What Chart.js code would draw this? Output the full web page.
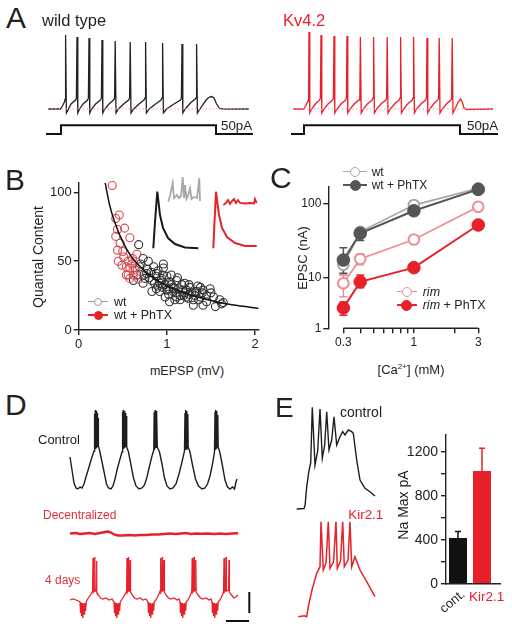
<!DOCTYPE html>
<html>
<head>
<meta charset="utf-8">
<script src="https://cdn.jsdelivr.net/npm/chart.js@4.4.1/dist/chart.umd.min.js"></script>
<style>
  body { margin: 0; background: #fff; }
  #fig { position: relative; width: 512px; height: 631px; overflow: hidden; font-family: "Liberation Sans", Arial, Helvetica, sans-serif; color: #222; }
  #fig canvas { position: absolute; }
  .t { position: absolute; line-height: 1; white-space: nowrap; }
  .mk { position: absolute; box-sizing: border-box; }
</style>
</head>
<body>
<div id="fig"></div>
<script>
// ---- data ----
// A: current-clamp traces (ms, mV) and injected step (ms, pA)
const restV = -65;
const wtTrace = [[0,-65],[62,-65],[72,-62],[82,-58],[86,-55],[88,9],[92,-69],[100,-66],[115,-60],[138,-56],[142,-54],[145,7],[149,-69],[158,-65],[175,-60],[198,-56],[202,-54],[205,6],[209,-69],[218,-65],[238,-60],[262,-56],[267,-54],[270,4],[274,-69],[284,-65],[305,-60],[328,-56],[333,-54],[336,3],[340,-69],[352,-65],[378,-60],[403,-56],[408,-54],[411,2],[415,-69],[428,-65],[455,-60],[480,-56],[485,-54],[488,2],[492,-69],[506,-65],[538,-60],[565,-56],[570,-54],[573,1],[577,-69],[593,-65],[630,-60],[662,-56],[667,-54],[670,0],[674,-69],[686,-65],[712,-59],[736,-55],[740,-54],[743,0],[747,-69],[760,-65],[780,-59],[795,-55],[808,-53],[818,-52.5],[830,-54],[843,-60],[858,-64.5],[880,-65.2],[1005,-65]];
const kvTrace = [[0,-65],[55,-65],[66,-61],[75,-57],[78,-55],[80,12],[84,-69],[93,-65],[112,-60],[133,-56],[137,-54],[140,9],[144,-69],[155,-65],[175,-60],[198,-56],[202,-54],[205,8],[209,-69],[220,-65],[240,-60],[263,-56],[267,-54],[270,8],[274,-69],[285,-65],[306,-60],[330,-56],[334,-54],[337,7],[341,-69],[352,-65],[372,-60],[396,-56],[400,-54],[403,7],[407,-69],[418,-65],[440,-60],[464,-56],[468,-54],[471,7],[475,-69],[486,-65],[507,-60],[531,-56],[535,-54],[538,7],[542,-69],[553,-65],[573,-60],[596,-56],[600,-54],[603,7],[607,-69],[618,-65],[640,-60],[663,-56],[667,-54],[670,6],[674,-69],[684,-65],[703,-60],[724,-56],[728,-54],[731,6],[735,-69],[746,-65],[767,-60],[789,-56],[793,-54],[796,6],[800,-69],[812,-64],[826,-58],[838,-55],[846,-58],[855,-64],[868,-65.5],[1000,-65]];
const wtStep = [[-10,0],[65,0],[65,50],[840,50],[840,0],[1025,0]];
const kvStep = [[-10,0],[55,0],[55,50],[835,50],[835,0],[1025,0]];

// B: quantal content vs mEPSP
const wtMepsp = [0.68,0.73,0.79,0.96,0.96,0.85,0.88,0.77,0.83,0.73,0.92,0.88,1.0,1.05,1.03,1.11,1.17,1.2,1.26,1.34,1.38,1.41,1.49,1.45,1.55,1.62,1.41,1.30,1.36,1.2,1.11,0.98,1.07,1.15,1.02,0.88,0.83,0.62,0.66,0.69,0.75,0.94,1.07,1.22,1.28,1.53,1.38,0.92,1.19,1.24,1.03,1.09,1.32,1.45,0.80,0.86,0.90,0.93,0.95,0.98,1.0,1.02,1.05,1.08,1.1,1.13,1.15,1.18,1.22,1.25,1.3,1.32,0.78,0.82,0.7,0.74,0.9,0.95,1.12,1.25,1.35,1.4,1.5,1.6,1.64];
const wtQC    = [62,52,50,48,45,46,41,41,36,34,34,39,39,40,35,36,33,34,31,28,31,29,30,25,17,19,18,18,22,27,24,24,28,22,30,30,28,36,40,46,37.5,37.5,31,29,27,24,24,28,25,23,20.5,22,25,20.5,38,34,32,36,31,33,29,26,33,30,27,30,25,29,24,26,22,28,44,42,48,40,43,40,38,33,32,27,27,22,20];
const phMepsp = [0.38,0.46,0.42,0.52,0.44,0.42,0.58,0.47,0.44,0.51,0.45,0.56,0.60,0.49,0.54,0.58,0.64,0.56,0.62,0.66,0.58,0.54,0.64,0.68,0.50,0.61];
const phQC    = [105,83.5,81,74,73,68,67,63,58,53,50,50,48,47,46,45,45,40,40,55,37.5,40,43.6,37,57,52];
const fitMepsp = [0.3,0.35,0.4,0.5,0.6,0.7,0.8,1.0,1.2,1.4,1.6,1.8,2.04];
const fitQC    = [107,91,80,64,53,46,40,32,27,23,20,17.8,15.7];
// B insets (ms, a.u.)
const evokedWt  = [[3.3,3.7],[5,30],[7.3,60.3],[10,37],[13,24],[18,14],[25,8],[35,4.5],[48.3,3.7]];
const minisWt   = [[18.3,50.3],[20,56],[22.7,69],[24,54],[27,57],[29,54],[31,56],[32.7,75],[34,54],[35,67],[36.5,53],[38,56],[40,64],[41.5,53],[44,55],[47,54],[49.3,74],[50,51]];
const evokedPh  = [[63.3,3.7],[64.5,30],[66,60.3],[69,37],[72,24],[77,15],[85,9],[95,6],[106.7,6]];
const minisPh   = [[73.3,47],[76,49],[78,52],[80,48],[82,51],[84,53],[86,49],[88,52],[90,49],[95,48.5],[100,49],[104,48.5],[105,53],[106.7,49]];

// C: EPSC vs [Ca2+]
const caLevels   = [0.3, 0.4, 1, 3];
const wtEpsc     = [15, 42, 97, 163];
const wtLo       = [11, 37, 89, 157];
const wtHi       = [19, 47, 105, 169];
const wtPhEpsc   = [17.4, 40, 81, 158];
const wtPhLo     = [11.5, 32, 74, 150];
const wtPhHi     = [25.5, 47, 88, 166];
const rimEpsc    = [8.4, 18, 33, 92];
const rimLo      = [5.5, 15, 31, 87];
const rimHi      = [10.9, 21, 35.5, 97];
const rimPhEpsc  = [3.9, 8.8, 13.7, 52];
const rimPhLo    = [3.1, 7.3, 12.5, 48.5];
const rimPhHi    = [4.7, 10.9, 15, 56];
const caTicks    = [0.3,0.4,0.5,0.6,0.7,0.8,0.9,1,2,3];

// D: STG neuron traces (ms, mV)
const ctrlTrace = [[0,-29],[20,-42],[40,-55],[60,-60],[80,-61],[100,-59],[120,-60],[140,-56],[160,-49],[190,-39],[220,-29],[240,-23],
 [244,14],[248,-22],[253,18],[257,-21],[262,17],[266,-20],[271,15],[275,-19],[280,10],[284,-18],
 [295,-22],[320,-34],[345,-46],[365,-56],[385,-60],[410,-61],[430,-58],[450,-51],[475,-40],[500,-31],[520,-24],
 [524,16],[528,-22],[533,18],[537,-21],[543,17],[547,-20],[553,15],[557,-19],[563,12],[567,-19],
 [585,-24],[610,-37],[635,-50],[660,-58],[690,-61],[720,-60],[745,-57],[770,-49],[795,-38],[820,-28],[838,-22],
 [842,16],[846,-22],[851,18],[855,-20],[860,17],[864,-20],[869,14],[873,-19],
 [895,-24],[920,-36],[945,-50],[970,-58],[1000,-61],[1030,-60],[1060,-56],[1090,-46],[1120,-34],[1145,-23],
 [1150,15],[1154,-22],[1159,18],[1163,-21],[1168,17],[1172,-20],[1178,14],[1182,-19],
 [1200,-24],[1225,-37],[1255,-51],[1285,-58],[1320,-61],[1350,-60],[1375,-56],[1400,-48],[1425,-36],[1445,-24],
 [1450,16],[1454,-22],[1459,18],[1463,-20],[1468,17],[1472,-19],[1478,13],[1482,-19],
 [1500,-25],[1525,-38],[1550,-52],[1575,-59],[1600,-61],[1625,-59],[1645,-61],[1660,-54],[1670,-51]];
const decentTrace = [[0,-49.5],[60,-49],[100,-50],[150,-49.5],[200,-49],[250,-50],[300,-49],[350,-48],[380,-47.5],[410,-48.5],[440,-50.5],[480,-51.5],[530,-51.5],[600,-51],[650,-51.5],[700,-51],[760,-51],[820,-50.5],[880,-50.5],[940,-50],[1000,-49.5],[1060,-50],[1110,-49.5],[1160,-49],[1210,-50],[1260,-49.5],[1320,-49.8],[1380,-49.5],[1440,-50],[1500,-49.5],[1560,-50],[1620,-49.5],[1680,-49.2]];
const days4Trace = [[0,-60],[30,-59],[60,-60],[85,-61],
 [100,-62],[104,-73],[108,-62],[116,-76],[120,-63],[128,-78],[132,-64],[142,-74],[146,-63],[156,-71],[162,-62],[170,-60],
 [190,-57],[210,-54],[226,-51],[230,-18],[234,-52],[244,-50],[248,-17],[252,-51],[261,-50],[265,-21],[269,-52],[285,-55],[305,-58],[330,-59],[360,-58],[390,-60],[420,-59],
 [440,-62],[444,-73],[448,-62],[456,-76],[460,-63],[468,-78],[472,-64],[482,-74],[486,-63],[496,-71],[502,-62],[515,-60],
 [535,-57],[552,-54],[566,-51],[570,-18],[574,-52],[582,-50],[586,-17],[590,-51],[597,-50],[601,-20],[605,-52],[622,-55],[645,-58],[670,-59],[700,-58],[730,-60],[760,-59],
 [780,-62],[784,-73],[788,-62],[796,-76],[800,-63],[808,-78],[812,-64],[822,-74],[826,-63],[836,-71],[842,-62],[860,-60],
 [875,-57],[890,-54],[901,-51],[905,-18],[909,-52],[918,-50],[922,-17],[926,-51],[936,-50],[940,-20],[944,-52],[960,-55],[985,-58],[1010,-59],[1040,-58],[1070,-60],[1090,-59],
 [1100,-62],[1104,-73],[1108,-62],[1116,-76],[1120,-63],[1128,-78],[1132,-64],[1142,-74],[1146,-63],[1156,-71],[1162,-62],[1180,-60],
 [1195,-57],[1208,-54],[1218,-51],[1222,-18],[1226,-52],[1236,-50],[1240,-17],[1244,-51],[1254,-50],[1258,-20],[1262,-52],[1280,-55],[1305,-58],[1330,-59],[1360,-58],[1390,-60],[1410,-59],
 [1420,-62],[1424,-73],[1428,-62],[1436,-76],[1440,-63],[1448,-78],[1452,-64],[1462,-74],[1466,-63],[1476,-71],[1482,-62],[1500,-60],
 [1515,-57],[1528,-54],[1536,-51],[1540,-18],[1544,-52],[1556,-50],[1560,-17],[1564,-51],[1586,-50],[1590,-20],[1594,-52],[1615,-55],[1640,-58],[1660,-57],[1680,-55]];
const scaleBarT = [[1560,-81],[1790,-81]];
const scaleBarV = [[1793,-52],[1793,-73]];

// E: traces (ms, mV) and Na max current
const eCtrlTrace = [[0,-70],[36.5,-69.5],[42,-66],[50,-47.7],[62,-31],[70,-24],[78,31.7],[91.5,-26],[105,-12],[116.5,30],[128,-19.3],[140,-6],[150,27.3],[161.5,-11],[175,-1],[186.5,22.3],[200,-6],[216.5,2.3],[230,7.3],[241.5,4],[258,9],[275,7.3],[283,5.7],[300,-21],[316.5,-41],[341.5,-49.3],[366.5,-52.7],[391.5,-57]];
const eKirTrace = [[0,-70],[30,-69],[42,-70],[50,-60],[68.5,-43.3],[92,-26.6],[108.5,-20],[113.5,25],[125,-23.3],[138.5,-16.3],[150,25],[158.5,-21.6],[176,-15.3],[188.5,25],[195,-21.6],[211,-14.3],[222,25],[230,-20],[248.5,-13.3],[258.5,25],[267,-20],[283.5,-10],[308.5,-23.3],[342,-35],[383.5,-50]];
const naGroups = ['cont.', 'Kir2.1'];
const naMax    = [415, 1024];
const naErr    = [60, 207];

// ---- helpers ----
const FONT = '"Liberation Sans", Arial, Helvetica, sans-serif';
const RED = '#e8202a';
const INK = '#222';
const fig = document.getElementById('fig');

function addCanvas(id, left, top, w, h) {
  const c = document.createElement('canvas');
  c.id = id; c.width = w; c.height = h;
  c.style.left = left + 'px'; c.style.top = top + 'px';
  c.style.width = w + 'px'; c.style.height = h + 'px';
  fig.appendChild(c);
  return c;
}
function txt(s, x, base, size, o = {}) {
  const d = document.createElement('div');
  d.className = 't'; d.innerHTML = s;
  d.style.fontSize = size + 'px';
  d.style.color = o.color || INK;
  if (o.italic) d.style.fontStyle = 'italic';
  d.style.left = x + 'px';
  d.style.top = (base - 0.8465 * size) + 'px';
  if (o.center) d.style.transform = 'translateX(-50%)';
  fig.appendChild(d);
}
function rtxt(s, cx, cy, size, angle, o = {}) {
  const d = document.createElement('div');
  d.className = 't'; d.innerHTML = s;
  d.style.fontSize = size + 'px';
  d.style.color = o.color || INK;
  d.style.left = cx + 'px'; d.style.top = cy + 'px';
  d.style.transform = 'translate(-50%,-50%) rotate(' + angle + 'deg)';
  fig.appendChild(d);
}
function legendMark(x1, x2, cy, color, filled, r) {
  const l = document.createElement('div');
  l.className = 'mk';
  Object.assign(l.style, { left: x1 + 'px', top: (cy - 0.8) + 'px', width: (x2 - x1) + 'px', height: '1.6px', background: color });
  fig.appendChild(l);
  const c = document.createElement('div');
  const cx = (x1 + x2) / 2;
  c.className = 'mk';
  Object.assign(c.style, { left: (cx - r) + 'px', top: (cy - r) + 'px', width: 2 * r + 'px', height: 2 * r + 'px',
    borderRadius: '50%', border: '1.6px solid ' + color, background: filled ? color : '#fff' });
  fig.appendChild(c);
}
const pts = arr => arr.map(p => ({ x: p[0], y: p[1] }));
const zip = (xs, ys) => xs.map((x, i) => ({ x: x, y: ys[i] }));
function line(arr, color, w, extra) {
  return Object.assign({ data: pts(arr), borderColor: color, borderWidth: w, pointRadius: 0, fill: false, tension: 0 }, extra || {});
}
const base = { responsive: false, animation: false, devicePixelRatio: 1, events: [],
  plugins: { legend: { display: false }, tooltip: { enabled: false } } };

function traceChart(canvas, datasets, xr, yr, extraScales) {
  const scales = { x: { type: 'linear', display: false, min: xr[0], max: xr[1] },
                   y: { type: 'linear', display: false, min: yr[0], max: yr[1] } };
  Object.assign(scales, extraScales || {});
  return new Chart(canvas, { type: 'line', data: { datasets }, options: Object.assign({}, base, {
    layout: { padding: 0 }, elements: { point: { radius: 0 }, line: { tension: 0 } }, scales }) });
}
function axis(extra) {
  return Object.assign({
    grid: { display: true, drawOnChartArea: false, drawTicks: true, tickLength: 5, color: INK, lineWidth: 1.4 },
    border: { display: true, color: INK, width: 1.4 }
  }, extra);
}
// error bars drawn through the scales
const errorBars = {
  id: 'errorBars',
  beforeDatasetsDraw(chart) {
    const ctx = chart.ctx, ys = chart.scales.y;
    chart.data.datasets.forEach((ds, i) => {
      if (!ds.errLo && !ds.errHi) return;
      const meta = chart.getDatasetMeta(i);
      ctx.save();
      ctx.strokeStyle = ds.errColor || ds.borderColor;
      ctx.lineWidth = 1.5;
      meta.data.forEach((el, j) => {
        const yTop = ys.getPixelForValue(ds.errHi[j]);
        const yBot = ds.errLo ? ys.getPixelForValue(ds.errLo[j]) : el.y;
        const cap = ds.capHalf || 4;
        ctx.beginPath();
        ctx.moveTo(el.x, yBot); ctx.lineTo(el.x, yTop);
        ctx.moveTo(el.x - cap, yTop); ctx.lineTo(el.x + cap, yTop);
        if (ds.errLo) { ctx.moveTo(el.x - cap, yBot); ctx.lineTo(el.x + cap, yBot); }
        ctx.stroke();
      });
      ctx.restore();
    });
  }
};

// ---- A ----
const cA1 = addCanvas('a1', 44, 28, 212, 110);
traceChart(cA1, [
  line([[0, restV], [1005, restV]], '#f2a2a6', 1, { borderDash: [1.5, 2] }),
  line(wtTrace, INK, 1.3),
  line(wtStep, '#111', 2, { yAxisID: 'yI' })
], [-20, 1040], [-94, 16], { yI: { type: 'linear', display: false, min: -23, max: 610 } });

const cA2 = addCanvas('a2', 289, 28, 212, 110);
traceChart(cA2, [
  line([[0, restV], [1000, restV]], '#f2a2a6', 1, { borderDash: [1.5, 2] }),
  line(kvTrace, RED, 1.3),
  line(kvStep, '#111', 2, { yAxisID: 'yI' })
], [-20, 1040], [-94, 16], { yI: { type: 'linear', display: false, min: -23, max: 610 } });

txt('A', 6, 28.5, 30);
txt('wild type', 42, 25.5, 16.5);
txt('Kv4.2', 283, 26, 16.5, { color: RED });
txt('50pA', 221, 130, 13.3);
txt('50pA', 467, 130, 13.3);

// ---- B ----
const cB = addCanvas('b', 0, 160, 270, 200);
new Chart(cB, {
  type: 'scatter',
  data: { datasets: [
    { type: 'line', data: zip(fitMepsp, fitQC), borderColor: '#111', borderWidth: 1.5, pointRadius: 0,
      cubicInterpolationMode: 'monotone', order: 0 },
    { data: zip(phMepsp, phQC), borderColor: '#d8464e', backgroundColor: 'rgba(0,0,0,0)', pointRadius: 4,
      pointBorderWidth: 1.1, borderWidth: 1.1, clip: false, order: 1 },
    { data: zip(wtMepsp, wtQC), borderColor: '#333', backgroundColor: 'rgba(0,0,0,0)', pointRadius: 4,
      pointBorderWidth: 1.1, borderWidth: 1.1, clip: false, order: 2 }
  ] },
  options: Object.assign({}, base, {
    layout: { padding: { left: 0, top: 23, right: 11.4, bottom: 0 } },
    scales: {
      x: axis({ type: 'linear', min: 0, max: 2.04,
        afterFit: s => { s.height = 30; },
        afterBuildTicks: s => { s.ticks = [0, 1, 2].map(v => ({ value: v })); },
        ticks: { color: INK, font: { family: FONT, size: 13 }, padding: 2, maxRotation: 0, autoSkip: false } }),
      y: axis({ type: 'linear', min: 0, max: 106.8,
        afterFit: s => { s.width = 78.7; },
        afterBuildTicks: s => { s.ticks = [0, 50, 100].map(v => ({ value: v })); },
        ticks: { color: INK, font: { family: FONT, size: 13 }, padding: 2, autoSkip: false } })
    }
  })
});
// insets
const cBi = addCanvas('bi', 150, 172, 110, 80);
traceChart(cBi, [
  line(evokedWt, '#1a1a1a', 2),
  line(minisWt, '#a9a9a9', 1.8),
  line(evokedPh, RED, 2),
  line(minisPh, RED, 1.8)
], [0, 110], [0, 80]);

txt('B', 5, 190, 30);
rtxt('Quantal Content', 38, 257, 14, -90);
txt('mEPSP (mV)', 187, 375.5, 12.5, { center: true });
legendMark(88, 108, 301.7, '#9a9a9a', false, 4);
legendMark(88, 108, 315, RED, true, 4.5);
txt('wt', 114, 306.2, 12.5);
txt('wt + PhTX', 114, 319.5, 12.5);

// ---- C ----
const cC = addCanvas('c', 260, 160, 252, 200);
const xAxisLine = {
  id: 'xAxisLine',
  afterDraw(chart) {
    const xs = chart.scales.x, ctx = chart.ctx, y = chart.chartArea.bottom;
    ctx.save(); ctx.strokeStyle = INK; ctx.lineWidth = 1.4;
    ctx.beginPath(); ctx.moveTo(xs.getPixelForValue(caLevels[0]), y);
    ctx.lineTo(xs.getPixelForValue(caLevels[caLevels.length - 1]), y); ctx.stroke();
    ctx.restore();
  }
};
new Chart(cC, {
  type: 'line',
  data: { labels: caLevels, datasets: [
    { data: zip(caLevels, wtEpsc), errLo: wtLo, errHi: wtHi, borderColor: '#a8a8a8', backgroundColor: '#fff',
      pointRadius: 5.3, pointBorderWidth: 2, borderWidth: 1.8, tension: 0, clip: false, order: 4 },
    { data: zip(caLevels, wtPhEpsc), errLo: wtPhLo, errHi: wtPhHi, borderColor: '#555', backgroundColor: '#555',
      pointRadius: 6.3, pointBorderWidth: 1, borderWidth: 2, tension: 0, clip: false, order: 3 },
    { data: zip(caLevels, rimEpsc), errLo: rimLo, errHi: rimHi, borderColor: '#ee8e96', backgroundColor: '#fff',
      pointRadius: 5.3, pointBorderWidth: 2, borderWidth: 1.8, tension: 0, clip: false, order: 2 },
    { data: zip(caLevels, rimPhEpsc), errLo: rimPhLo, errHi: rimPhHi, borderColor: RED, backgroundColor: RED,
      pointRadius: 6.3, pointBorderWidth: 1, borderWidth: 2, tension: 0, clip: false, order: 1 }
  ] },
  options: Object.assign({}, base, {
    layout: { padding: { left: 0, top: 26.7, right: 26.4, bottom: 0 } },
    scales: {
      x: axis({ type: 'logarithmic', min: 0.232, max: 3.4,
        border: { display: false },
        afterFit: s => { s.height = 31.7; },
        afterBuildTicks: s => { s.ticks = caTicks.map(v => ({ value: v })); },
        ticks: { color: INK, font: { family: FONT, size: 12 }, padding: 2, maxRotation: 0, autoSkip: false,
          callback: v => ([0.3, 1, 3].includes(v) ? String(v) : '') } }),
      y: axis({ type: 'logarithmic', min: 2.06, max: 172,
        afterFit: s => { s.width = 68.3; },
        afterBuildTicks: s => { s.ticks = [2.06, 10, 100].map(v => ({ value: v })); },
        ticks: { color: INK, font: { family: FONT, size: 12 }, padding: 2, autoSkip: false,
          callback: v => (v < 5 ? '1' : String(v)) } })
    }
  }),
  plugins: [errorBars, xAxisLine]
});
txt('C', 270, 188.5, 30);
rtxt('EPSC (nA)', 301.7, 258, 13, -90);
txt('[Ca<sup style="font-size:0.62em;vertical-align:0.62em;line-height:0">2+</sup>] (mM)', 411, 374, 13, { center: true });
legendMark(343.3, 366.7, 171.7, '#a8a8a8', false, 5);
legendMark(343.3, 366.7, 185, '#555', true, 5.5);
legendMark(396.7, 416.7, 291.7, '#ee8e96', false, 5);
legendMark(396.7, 416.7, 305, RED, true, 5.5);
txt('wt', 371.7, 176, 12);
txt('wt + PhTX', 371.7, 189.3, 12);
txt('<i>rim</i>', 422.7, 296.2, 12.5);
txt('<i>rim</i> + PhTX', 422.7, 309.5, 12.5);

// ---- D ----
const cD1 = addCanvas('d1', 60, 400, 190, 100);
traceChart(cD1, [line(ctrlTrace, '#1e1e1e', 1.4)], [-100, 1800], [-72, 28]);
const cD2 = addCanvas('d2', 60, 520, 190, 30);
traceChart(cD2, [line(decentTrace, RED, 2.4)], [-100, 1800], [-66, -36]);
const cD3 = addCanvas('d3', 60, 550, 200, 80);
traceChart(cD3, [
  line(days4Trace, RED, 1.3),
  line(scaleBarT, '#111', 2),
  line(scaleBarV, '#111', 2)
], [-100, 1900], [-90, -10]);
txt('D', 5, 415, 30);
txt('Control', 38, 443.7, 13);
txt('Decentralized', 43, 519.3, 12, { color: '#e0303a' });
txt('4 days', 45, 584.3, 12, { color: '#e0303a' });

// ---- E ----
const cE1 = addCanvas('e1', 290, 398, 95, 112);
traceChart(cE1, [line(eCtrlTrace, '#1e1e1e', 1.4)], [-33.5, 441.5], [-71, 41]);
const cE2 = addCanvas('e2', 290, 510, 95, 115);
traceChart(cE2, [line(eKirTrace, RED, 1.5)], [-41.5, 433.5], [-78.3, 36.7]);

const cE3 = addCanvas('e3', 380, 420, 132, 200);
new Chart(cE3, {
  type: 'bar',
  data: { datasets: [{
    data: naMax.map((v, i) => ({ x: i, y: v })),
    errHi: naMax.map((v, i) => v + naErr[i]),
    errColor: '#111', capHalf: 3,
    backgroundColor: ['#111', RED], borderWidth: 0,
    barPercentage: 0.75, categoryPercentage: 1
  }] },
  options: Object.assign({}, base, {
    layout: { padding: { left: 0, top: 15, right: 12, bottom: 0 } },
    scales: {
      x: { type: 'linear', min: -0.5, max: 1.75, offset: false,
        grid: { display: false }, ticks: { display: false },
        border: { display: true, color: INK, width: 1.4 },
        afterFit: s => { s.height = 36.3; } },
      y: axis({ type: 'linear', min: 0, max: 1352,
        afterFit: s => { s.width = 66; },
        afterBuildTicks: s => { s.ticks = [0, 200, 400, 600, 800, 1000, 1200].map(v => ({ value: v })); },
        ticks: { color: INK, font: { family: FONT, size: 14 }, padding: 3, autoSkip: false,
          callback: v => (v % 400 === 0 ? String(v) : '') } })
    }
  }),
  plugins: [{
    id: 'barErr',
    afterDatasetsDraw(chart) {
      const ds = chart.data.datasets[0], ys = chart.scales.y, ctx = chart.ctx;
      chart.getDatasetMeta(0).data.forEach((el, j) => {
        const top = ys.getPixelForValue(ds.errHi[j]);
        ctx.save();
        ctx.strokeStyle = ds.backgroundColor[j]; ctx.lineWidth = 1.5;
        ctx.beginPath();
        ctx.moveTo(el.x, el.y); ctx.lineTo(el.x, top);
        ctx.moveTo(el.x - 3, top); ctx.lineTo(el.x + 3, top);
        ctx.stroke(); ctx.restore();
      });
    }
  }]
});
txt('E', 275, 417.5, 28);
txt('control', 340, 416.7, 14);
txt('Kir2.1', 348.3, 519.8, 13.4, { color: RED });
rtxt('Na Max pA', 403, 505, 14, -90);
rtxt(naGroups[0], 452, 601, 13, -40);
txt(naGroups[1], 469, 601.5, 13.5, { color: RED });
</script>
</body>
</html>
